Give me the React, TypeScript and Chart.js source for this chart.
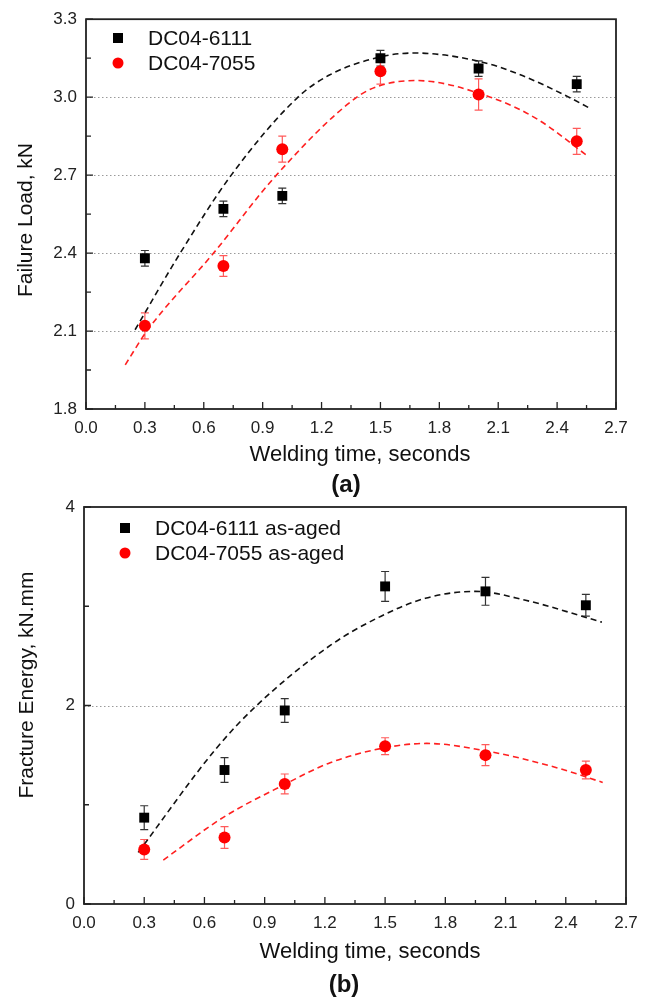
import React, { useEffect, useRef } from "react";
import { Chart, registerables } from "chart.js";

Chart.register(...registerables);

const FONT = "'Liberation Sans', Arial, Helvetica, sans-serif";

// ---------- shared x axis ----------
const xTickValues = [0, 0.3, 0.6, 0.9, 1.2, 1.5, 1.8, 2.1, 2.4, 2.7];
const xMinorTickValues = [0.15, 0.45, 0.75, 1.05, 1.35, 1.65, 1.95, 2.25, 2.55];
const xAxisTitle = "Welding time, seconds";

// ---------- panel (a): failure load ----------
const weldTimesA = [0.3, 0.7, 1.0, 1.5, 2.0, 2.5];
const load6111 = [2.38, 2.57, 2.62, 3.15, 3.11, 3.05];
const load6111Err = [0.03, 0.03, 0.03, 0.03, 0.03, 0.03];
const load7055 = [2.12, 2.35, 2.8, 3.1, 3.01, 2.83];
const load7055Err = [0.05, 0.04, 0.05, 0.05, 0.06, 0.05];
const fitLoad6111X = [0.25, 0.48, 0.74, 1.08, 1.24, 1.5, 1.67, 1.99, 2.2, 2.46, 2.56];
const fitLoad6111Y = [2.105, 2.4, 2.7, 3.0, 3.085, 3.155, 3.17, 3.14, 3.09, 3.0, 2.96];
const fitLoad7055X = [0.2, 0.31, 0.65, 0.97, 1.38, 1.5, 1.68, 2.06, 2.3, 2.56];
const fitLoad7055Y = [1.97, 2.1, 2.4, 2.7, 3.0, 3.045, 3.064, 3.0, 2.915, 2.771];
const loadYTicks = [1.8, 2.1, 2.4, 2.7, 3.0, 3.3];
const loadYMinorTicks = [1.95, 2.25, 2.55, 2.85, 3.15];
const loadYGrid = [2.1, 2.4, 2.7, 3.0];
const loadLegend = ["DC04-6111", "DC04-7055"];
const loadYTitle = "Failure Load, kN";

// ---------- panel (b): fracture energy ----------
const weldTimesB = [0.3, 0.7, 1.0, 1.5, 2.0, 2.5];
const energy6111 = [0.87, 1.35, 1.95, 3.2, 3.15, 3.01];
const energy6111Err = [0.12, 0.125, 0.12, 0.15, 0.14, 0.11];
const energy7055 = [0.55, 0.67, 1.21, 1.59, 1.5, 1.35];
const energy7055Err = [0.1, 0.11, 0.1, 0.085, 0.105, 0.09];
const fitEnergy6111X = [0.27, 0.66, 0.86, 1.23, 1.48, 1.7, 1.95, 2.2, 2.58];
const fitEnergy6111Y = [0.52, 1.57, 2.0, 2.61, 2.9, 3.08, 3.15, 3.06, 2.84];
const fitEnergy7055X = [0.395, 0.694, 0.993, 1.226, 1.508, 1.707, 2.006, 2.338, 2.584];
const fitEnergy7055Y = [0.443, 0.873, 1.198, 1.423, 1.578, 1.618, 1.541, 1.383, 1.225];
const energyYTicks = [0, 2, 4];
const energyYMinorTicks = [1, 3];
const energyYGrid = [2];
const energyLegend = ["DC04-6111 as-aged", "DC04-7055 as-aged"];
const energyYTitle = "Fracture Energy, kN.mm";

const BLACK = "#000000";
const RED = "#ff0000";

const toPoints = (xs: number[], ys: number[]) => xs.map((x, i) => ({ x, y: ys[i] }));

function markerDataset(label: string, xs: number[], ys: number[], errs: number[], color: string, errColor: string, style: string, radius: number) {
  return {
    label,
    data: toPoints(xs, ys),
    errors: errs,
    errorColor: errColor,
    showLine: false,
    pointStyle: style,
    pointRadius: radius,
    pointHoverRadius: radius,
    pointBackgroundColor: color,
    pointBorderColor: color,
    pointBorderWidth: 0,
    borderColor: color,
    backgroundColor: color,
    isMarker: true,
  };
}

function fitDataset(xs: number[], ys: number[], color: string) {
  return {
    label: "fit",
    data: toPoints(xs, ys),
    showLine: true,
    borderColor: color,
    borderWidth: 1.6,
    borderDash: [6, 4],
    pointRadius: 0,
    cubicInterpolationMode: "monotone",
    fill: false,
  };
}

type Spec = {
  top: number;
  height: number;
  padTop: number;
  padRight: number;
  yAxisWidth: number;
  xAxisHeight: number;
  yMin: number;
  yMax: number;
  yTicks: number[];
  yMinor: number[];
  yGrid: number[];
  yDecimals: number;
  yTitle: string;
  yTitlePos: [number, number];
  xTitlePos: [number, number];
  panelLabel: string;
  panelLabelPos: [number, number];
  legendMarkerX: number;
  legendTextX: number;
  legendY: [number, number];
  datasets: any[];
};

function decorPlugin(spec: Spec) {
  return {
    id: "decor",
    beforeDatasetsDraw(chart: any) {
      const { ctx, chartArea: a } = chart;
      const xs = chart.scales.x;
      const ys = chart.scales.y;
      ctx.save();
      // dotted horizontal grid lines
      ctx.strokeStyle = "#9a9a9a";
      ctx.lineWidth = 1;
      ctx.setLineDash([1.5, 2.5]);
      spec.yGrid.forEach((v) => {
        const py = Math.round(ys.getPixelForValue(v)) + 0.5;
        ctx.beginPath();
        ctx.moveTo(a.left, py);
        ctx.lineTo(a.right, py);
        ctx.stroke();
      });
      ctx.setLineDash([]);
      // error bars
      chart.data.datasets.forEach((ds: any) => {
        if (!ds.errors) return;
        ctx.strokeStyle = ds.errorColor;
        ctx.lineWidth = 1.2;
        ds.data.forEach((p: any, i: number) => {
          const px = xs.getPixelForValue(p.x);
          const t = ys.getPixelForValue(p.y + ds.errors[i]);
          const b = ys.getPixelForValue(p.y - ds.errors[i]);
          ctx.beginPath();
          ctx.moveTo(px, t);
          ctx.lineTo(px, b);
          ctx.moveTo(px - 4, t);
          ctx.lineTo(px + 4, t);
          ctx.moveTo(px - 4, b);
          ctx.lineTo(px + 4, b);
          ctx.stroke();
        });
      });
      ctx.restore();
    },
    afterDraw(chart: any) {
      const { ctx, chartArea: a } = chart;
      const xs = chart.scales.x;
      const ys = chart.scales.y;
      ctx.save();
      // frame
      ctx.strokeStyle = "#222";
      ctx.lineWidth = 1.8;
      ctx.strokeRect(a.left, a.top, a.right - a.left, a.bottom - a.top);
      // inward ticks
      ctx.lineWidth = 1.3;
      ctx.beginPath();
      xTickValues.forEach((v) => {
        const px = xs.getPixelForValue(v);
        ctx.moveTo(px, a.bottom);
        ctx.lineTo(px, a.bottom - 7);
      });
      xMinorTickValues.forEach((v) => {
        const px = xs.getPixelForValue(v);
        ctx.moveTo(px, a.bottom);
        ctx.lineTo(px, a.bottom - 4);
      });
      spec.yTicks.forEach((v) => {
        const py = ys.getPixelForValue(v);
        ctx.moveTo(a.left, py);
        ctx.lineTo(a.left + 7, py);
      });
      spec.yMinor.forEach((v) => {
        const py = ys.getPixelForValue(v);
        ctx.moveTo(a.left, py);
        ctx.lineTo(a.left + 5, py);
      });
      ctx.stroke();

      // legend
      const markers = chart.data.datasets.filter((d: any) => d.isMarker);
      ctx.font = `21px ${FONT}`;
      ctx.textBaseline = "middle";
      ctx.textAlign = "left";
      markers.forEach((d: any, i: number) => {
        const y = spec.legendY[i] - spec.top;
        ctx.fillStyle = d.pointBackgroundColor;
        if (d.pointStyle === "rect") {
          ctx.fillRect(spec.legendMarkerX - 5, y - 5, 10, 10);
        } else {
          ctx.beginPath();
          ctx.arc(spec.legendMarkerX, y, 5.5, 0, Math.PI * 2);
          ctx.fill();
        }
        ctx.fillStyle = "#111";
        ctx.fillText(d.label, spec.legendTextX, y + 1);
      });

      // axis titles
      ctx.fillStyle = "#111";
      ctx.font = `22px ${FONT}`;
      ctx.textAlign = "center";
      ctx.textBaseline = "alphabetic";
      ctx.fillText(xAxisTitle, spec.xTitlePos[0], spec.xTitlePos[1] - spec.top);
      ctx.save();
      ctx.font = `21px ${FONT}`;
      ctx.translate(spec.yTitlePos[0], spec.yTitlePos[1] - spec.top);
      ctx.rotate(-Math.PI / 2);
      ctx.textBaseline = "middle";
      ctx.fillText(spec.yTitle, 0, 0);
      ctx.restore();
      // panel label
      ctx.font = `bold 24px ${FONT}`;
      ctx.textAlign = "center";
      ctx.textBaseline = "alphabetic";
      ctx.fillText(spec.panelLabel, spec.panelLabelPos[0], spec.panelLabelPos[1] - spec.top);
      ctx.restore();
    },
  };
}

function buildConfig(spec: Spec): any {
  return {
    type: "line",
    data: { datasets: spec.datasets },
    options: {
      animation: false,
      responsive: false,
      devicePixelRatio: 1,
      layout: { padding: { top: spec.padTop, right: spec.padRight, left: 0, bottom: 0 } },
      plugins: {
        legend: { display: false },
        tooltip: { enabled: false },
        title: { display: false },
      },
      scales: {
        x: {
          type: "linear",
          min: 0,
          max: 2.7,
          afterBuildTicks: (s: any) => {
            s.ticks = xTickValues.map((v) => ({ value: v }));
          },
          afterFit: (s: any) => {
            s.height = spec.xAxisHeight;
          },
          grid: { display: false, drawTicks: false },
          border: { display: false },
          ticks: {
            padding: 9,
            autoSkip: false,
            maxRotation: 0,
            color: "#222",
            font: { family: FONT, size: 17 },
            callback: (v: any) => Number(v).toFixed(1),
          },
        },
        y: {
          type: "linear",
          min: spec.yMin,
          max: spec.yMax,
          afterBuildTicks: (s: any) => {
            s.ticks = spec.yTicks.map((v) => ({ value: v }));
          },
          afterFit: (s: any) => {
            s.width = spec.yAxisWidth;
          },
          grid: { display: false, drawTicks: false },
          border: { display: false },
          ticks: {
            padding: 9,
            autoSkip: false,
            color: "#222",
            font: { family: FONT, size: 17 },
            callback: (v: any) => Number(v).toFixed(spec.yDecimals),
          },
        },
      },
    },
    plugins: [decorPlugin(spec)],
  };
}

const specA: Spec = {
  top: 0,
  height: 520,
  padTop: 17,
  padRight: 31,
  yAxisWidth: 86,
  xAxisHeight: 111,
  yMin: 1.8,
  yMax: 3.3,
  yTicks: loadYTicks,
  yMinor: loadYMinorTicks,
  yGrid: loadYGrid,
  yDecimals: 1,
  yTitle: loadYTitle,
  yTitlePos: [26, 220],
  xTitlePos: [360, 461],
  panelLabel: "(a)",
  panelLabelPos: [346, 492],
  legendMarkerX: 118,
  legendTextX: 148,
  legendY: [38, 63],
  datasets: [
    markerDataset(loadLegend[0], weldTimesA, load6111, load6111Err, BLACK, "#333333", "rect", 7),
    markerDataset(loadLegend[1], weldTimesA, load7055, load7055Err, RED, "#ff5a5a", "circle", 6),
    fitDataset(fitLoad6111X, fitLoad6111Y, "#111111"),
    fitDataset(fitLoad7055X, fitLoad7055Y, "#ff2020"),
  ],
};

const specB: Spec = {
  top: 480,
  height: 520,
  padTop: 27,
  padRight: 21,
  yAxisWidth: 84,
  xAxisHeight: 96,
  yMin: 0,
  yMax: 4,
  yTicks: energyYTicks,
  yMinor: energyYMinorTicks,
  yGrid: energyYGrid,
  yDecimals: 0,
  yTitle: energyYTitle,
  yTitlePos: [27, 685],
  xTitlePos: [370, 958],
  panelLabel: "(b)",
  panelLabelPos: [344, 992],
  legendMarkerX: 125,
  legendTextX: 155,
  legendY: [528, 553],
  datasets: [
    markerDataset(energyLegend[0], weldTimesB, energy6111, energy6111Err, BLACK, "#333333", "rect", 7),
    markerDataset(energyLegend[1], weldTimesB, energy7055, energy7055Err, RED, "#ff5a5a", "circle", 6),
    fitDataset(fitEnergy6111X, fitEnergy6111Y, "#111111"),
    fitDataset(fitEnergy7055X, fitEnergy7055Y, "#ff2020"),
  ],
};

function Panel({ spec }: { spec: Spec }) {
  const ref = useRef<HTMLCanvasElement>(null);
  useEffect(() => {
    if (!ref.current) return;
    const chart = new Chart(ref.current, buildConfig(spec));
    return () => chart.destroy();
  }, [spec]);
  return (
    <canvas
      ref={ref}
      width={647}
      height={spec.height}
      style={{ position: "absolute", left: 0, top: spec.top, width: 647, height: spec.height }}
    />
  );
}

export default function App() {
  return (
    <div style={{ position: "absolute", left: 0, top: 0, width: 647, height: 1000, background: "#fff" }}>
      <Panel spec={specA} />
      <Panel spec={specB} />
    </div>
  );
}
